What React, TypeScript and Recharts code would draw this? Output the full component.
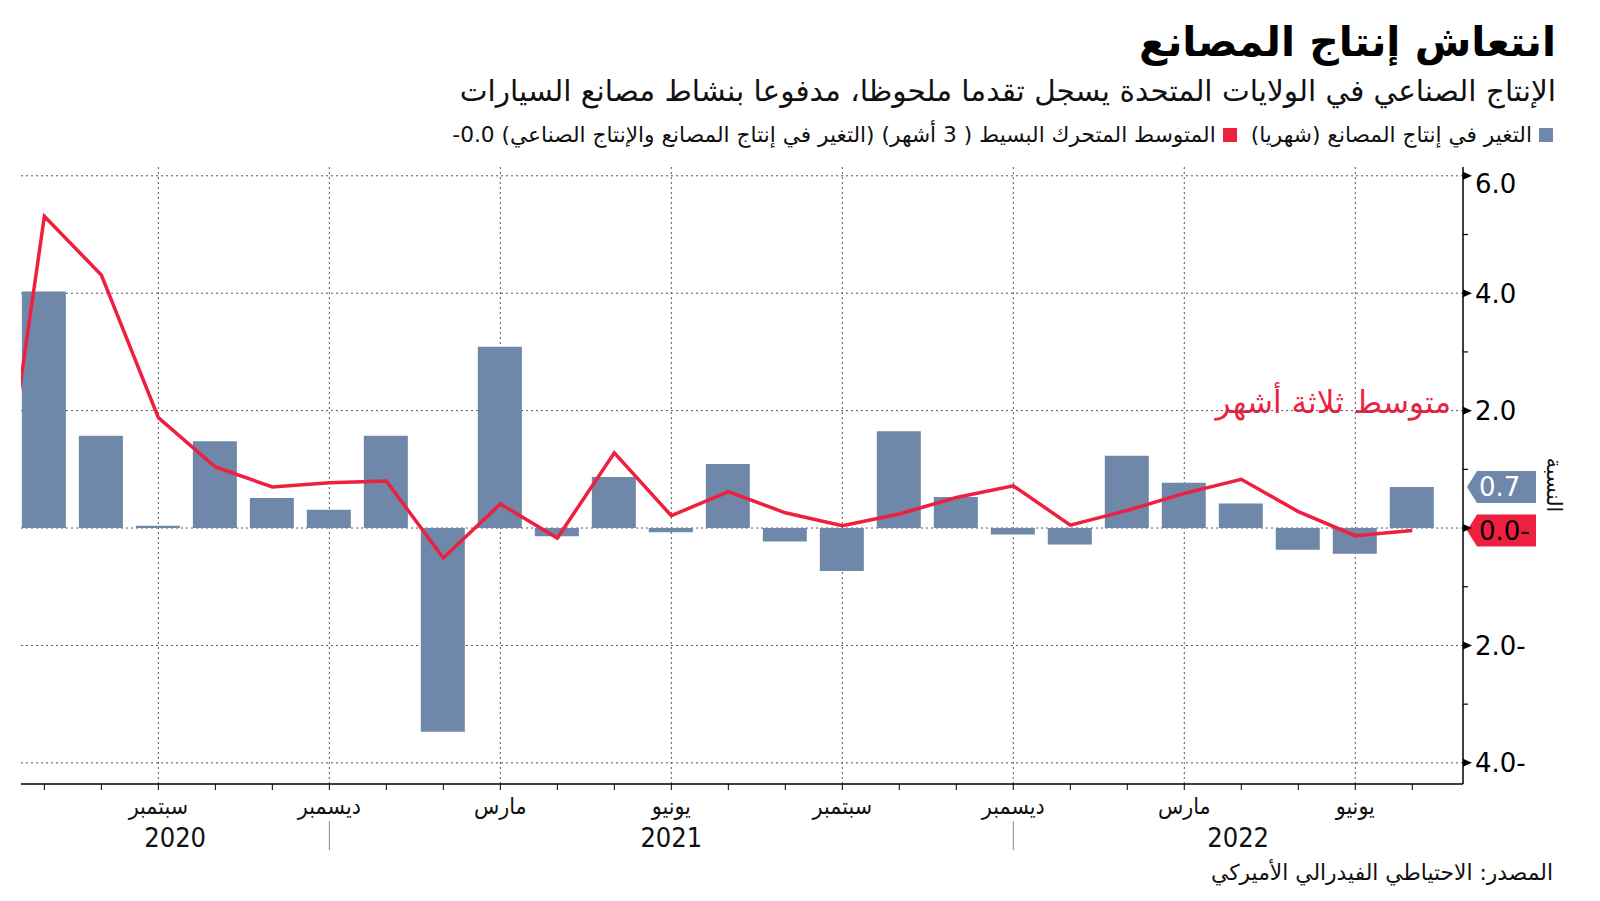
import React from 'react';
import { ComposedChart, Bar, Line, XAxis, YAxis, CartesianGrid, ReferenceLine } from 'recharts';

// month index: -1 = June 2020 ... 24 = July 2022
const monthIndex: number[] = [-1, 0, 1, 2, 3, 4, 5, 6, 7, 8, 9, 10, 11, 12, 13, 14, 15, 16, 17, 18, 19, 20, 21, 22, 23, 24];
const monthNames: string[] = [
  'يونيو', 'يوليو', 'أغسطس', 'سبتمبر', 'أكتوبر', 'نوفمبر', 'ديسمبر',
  'يناير', 'فبراير', 'مارس', 'أبريل', 'مايو', 'يونيو', 'يوليو', 'أغسطس', 'سبتمبر', 'أكتوبر', 'نوفمبر', 'ديسمبر',
  'يناير', 'فبراير', 'مارس', 'أبريل', 'مايو', 'يونيو', 'يوليو',
];
const monthlyChange: (number | null)[] = [
  null, 4.03, 1.57, 0.04, 1.48, 0.51, 0.31, 1.57, -3.47, 3.09, -0.14, 0.87, -0.07,
  1.09, -0.23, -0.73, 1.65, 0.53, -0.11, -0.28, 1.23, 0.77, 0.42, -0.37, -0.44, 0.70,
];
const movingAvg: number[] = [
  -1.47, 5.31, 4.31, 1.88, 1.04, 0.70, 0.77, 0.80, -0.51, 0.41, -0.17, 1.28, 0.21,
  0.62, 0.26, 0.04, 0.24, 0.52, 0.72, 0.05, 0.30, 0.59, 0.83, 0.28, -0.13, -0.04,
];
const quarterMonths: number[] = [2, 5, 8, 11, 14, 17, 20, 23];
const yearSeparators: number[] = [5, 17];
const years: string[] = ['2020', '2021', '2022'];
const yTicks: number[] = [-4, -3, -2, -1, 0, 1, 2, 3, 4, 5, 6];
const yGridTicks: number[] = [-4, -2, 0, 2, 4, 6];
const xDomain: [number, number] = [-0.41, 24.89];
const yDomain: [number, number] = [-4.36, 6.15];

const BAR = '#6f87a9';
const RED = '#ee1f3f';
const FONT = '"DejaVu Sans", "Noto Sans", sans-serif';
const COND = '"DejaVu Sans Condensed", "DejaVu Sans", sans-serif';

const data = monthIndex.map((m, i) => ({ m, bar: monthlyChange[i], avg: movingAvg[i] }));
const monthTicks = monthIndex.filter((m) => m >= 0);
const bounds = [xDomain[0], ...yearSeparators, xDomain[1]];
const yearPos = years.map((_, i) => (bounds[i] + bounds[i + 1]) / 2);
const topTick = yTicks[yTicks.length - 1];

const fmt = (v: number) => (v < 0 ? `${Math.abs(v).toFixed(1)}-` : v.toFixed(1));

const YTick = (props: any) => {
  const { x, y, payload } = props;
  const v = payload.value as number;
  if (Math.abs(v % 2) === 1) {
    return <line x1={x} x2={x + 5} y1={y} y2={y} stroke="#000" strokeWidth={1.2} />;
  }
  const shift = v === topTick ? 8 : 0;
  return (
    <g>
      <path d={`M${x} ${y - 4}L${x + 9} ${y}L${x} ${y + 4}Z`} fill="#000" />
      {v !== 0 && (
        <text x={x + 12} y={y + shift} dy="0.36em" fontSize={26} fontFamily={FONT} fill="#000" direction="ltr">
          {fmt(v)}
        </text>
      )}
    </g>
  );
};

const XTick = (props: any) => {
  const { x, y, payload } = props;
  const v = payload.value as number;
  const name = quarterMonths.includes(v) ? monthNames[monthIndex.indexOf(v)] : null;
  return (
    <g>
      <line x1={x} x2={x} y1={y} y2={y + 6} stroke="#000" strokeWidth={1} />
      {name && (
        <text x={x} y={y + 22} dy="0.35em" textAnchor="middle" fontSize={23} fontFamily={COND} fill="#111">
          {name}
        </text>
      )}
      {yearSeparators.includes(v) && <line x1={x} x2={x} y1={y + 37} y2={y + 66} stroke="#888" strokeWidth={1} />}
    </g>
  );
};

const YearTick = (props: any) => {
  const { x, y, index } = props;
  return (
    <text x={x} y={y + 14} dy="0.35em" textAnchor="middle" fontSize={27} fontFamily={COND} fill="#111">
      {years[index]}
    </text>
  );
};

const badge = (vb: any, text: string, fill: string, color: string) => {
  if (!vb) return null;
  const x = vb.x + vb.width + 4;
  const y = vb.y;
  return (
    <g>
      <path d={`M${x} ${y}L${x + 10} ${y - 16}L${x + 69} ${y - 16}L${x + 69} ${y + 16}L${x + 10} ${y + 16}Z`} fill={fill} />
      <text x={x + 12} y={y} dy="0.36em" fontSize={26} fontFamily={FONT} fill={color} direction="ltr">
        {text}
      </text>
    </g>
  );
};

const lastBar = monthlyChange[monthlyChange.length - 1] as number;
const lastAvg = movingAvg[movingAvg.length - 1];

export default function App() {
  return (
    <div style={{ position: 'absolute', left: 0, top: 0, width: 1600, height: 901, background: '#fff', overflow: 'hidden' }}>
      <div style={{ position: 'absolute', right: 44, top: 18, fontSize: 41, fontWeight: 'bold', fontFamily: FONT, direction: 'rtl', lineHeight: 1.2, color: '#000', whiteSpace: 'nowrap' }}>
        انتعاش إنتاج المصانع
      </div>
      <div style={{ position: 'absolute', right: 44, top: 74, fontSize: 29.5, fontFamily: FONT, direction: 'rtl', lineHeight: 1.2, color: '#111', whiteSpace: 'nowrap' }}>
        الإنتاج الصناعي في الولايات المتحدة يسجل تقدما ملحوظا، مدفوعا بنشاط مصانع السيارات
      </div>
      <div style={{ position: 'absolute', right: 47, top: 122, fontSize: 21.7, fontFamily: FONT, direction: 'rtl', lineHeight: 1.2, color: '#111', whiteSpace: 'nowrap', display: 'flex', alignItems: 'center' }}>
        <span style={{ display: 'inline-block', width: 14, height: 14, background: BAR, marginLeft: 7 }} />
        <span>التغير في إنتاج المصانع (شهريا)</span>
        <span style={{ display: 'inline-block', width: 14, height: 14, background: RED, marginRight: 14, marginLeft: 7 }} />
        <span>
          المتوسط المتحرك البسيط ( 3 أشهر) (التغير في إنتاج المصانع والإنتاج الصناعي) <span dir="ltr">-0.0</span>
        </span>
      </div>
      <div style={{ position: 'absolute', right: 149, top: 384, fontSize: 31, fontFamily: FONT, direction: 'rtl', lineHeight: 1.2, color: RED, whiteSpace: 'nowrap' }}>
        متوسط ثلاثة أشهر
      </div>
      <div style={{ position: 'absolute', left: 1553, top: 485, transform: 'translate(-50%, -50%) rotate(90deg)', fontSize: 21, fontFamily: FONT, direction: 'rtl', lineHeight: 1, color: '#111', whiteSpace: 'nowrap' }}>
        النسبة
      </div>
      <div style={{ position: 'absolute', right: 47, top: 860, fontSize: 21.8, fontFamily: FONT, direction: 'rtl', lineHeight: 1.2, color: '#111', whiteSpace: 'nowrap' }}>
        المصدر: الاحتياطي الفيدرالي الأميركي
      </div>
      <div style={{ position: 'absolute', left: 0, top: 0 }}>
        <ComposedChart width={1600} height={901} data={data} margin={{ top: 167, left: 21, right: 57, bottom: 17 }}>
          <XAxis
            dataKey="m"
            type="number"
            domain={xDomain}
            allowDataOverflow
            ticks={monthTicks}
            interval={0}
            tick={<XTick />}
            tickLine={false}
            tickSize={0}
            tickMargin={0}
            height={40}
            axisLine={{ stroke: '#000', strokeWidth: 1.5 }}
          />
          <XAxis xAxisId="grid" dataKey="m" type="number" domain={xDomain} allowDataOverflow ticks={quarterMonths} interval={0} height={0} hide />
          <XAxis
            xAxisId="year"
            dataKey="m"
            type="number"
            domain={xDomain}
            allowDataOverflow
            ticks={yearPos}
            interval={0}
            tick={<YearTick />}
            tickLine={false}
            tickSize={0}
            tickMargin={0}
            height={60}
            axisLine={false}
          />
          <YAxis
            orientation="right"
            type="number"
            domain={yDomain}
            allowDataOverflow
            ticks={yTicks}
            interval={0}
            tick={<YTick />}
            tickLine={false}
            tickSize={0}
            tickMargin={0}
            width={80}
            axisLine={{ stroke: '#000', strokeWidth: 1.5 }}
          />
          <YAxis yAxisId="grid" type="number" domain={yDomain} allowDataOverflow ticks={yGridTicks} interval={0} width={0} hide />
          <YAxis yAxisId="left" orientation="left" type="number" domain={yDomain} allowDataOverflow width={0} tick={false} tickLine={false} axisLine={{ stroke: '#777', strokeWidth: 1.2 }} />
          <CartesianGrid xAxisId="grid" yAxisId="grid" syncWithTicks stroke="#555" strokeDasharray="2 3" strokeWidth={1} />
          <Bar dataKey="bar" fill={BAR} barSize={44} isAnimationActive={false} />
          <Line dataKey="avg" stroke={RED} strokeWidth={3.5} dot={false} activeDot={false} isAnimationActive={false} strokeLinejoin="miter" />
          <ReferenceLine y={lastBar} stroke="none" label={(p: any) => badge(p.viewBox, fmt(Math.round(lastBar * 10) / 10), BAR, '#fff')} />
          <ReferenceLine y={lastAvg} stroke="none" label={(p: any) => badge(p.viewBox, fmt(lastAvg), RED, '#000')} />
        </ComposedChart>
      </div>
    </div>
  );
}
